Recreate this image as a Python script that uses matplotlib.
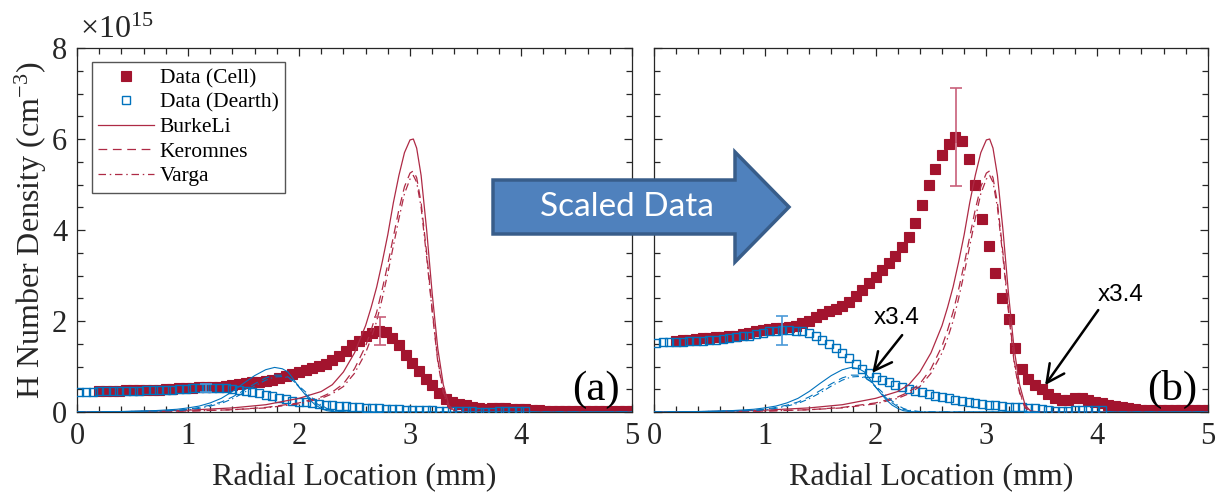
"""
H number density radial profiles: raw data (a) and data scaled x3.4 (b),
Cell / Dearth measurements against BurkeLi, Keromnes and Varga models.
"""

import matplotlib
matplotlib.use("Agg")
import matplotlib.pyplot as plt
from matplotlib.patches import Polygon
from matplotlib.ticker import MultipleLocator

SCALE = 3.4

# measured profiles as they appear in panel (b), units of 1e15 cm^-3
cell_x = [0.20, 0.26, 0.32, 0.38, 0.44, 0.50, 0.56, 0.62, 0.68, 0.74,
          0.80, 0.86, 0.92, 0.98, 1.04, 1.10, 1.16, 1.22, 1.28, 1.34,
          1.40, 1.46, 1.52, 1.58, 1.64, 1.70, 1.76, 1.82, 1.88, 1.94,
          2.00, 2.06, 2.12, 2.18, 2.24, 2.30, 2.36, 2.42, 2.48, 2.54,
          2.60, 2.66, 2.72, 2.78, 2.84, 2.90, 2.96, 3.02, 3.08, 3.14,
          3.20, 3.26, 3.32, 3.38, 3.44, 3.50, 3.56, 3.62, 3.68, 3.74,
          3.80, 3.86, 3.92, 3.98, 4.04, 4.10, 4.16, 4.22, 4.28, 4.34,
          4.40, 4.46, 4.52, 4.58, 4.64, 4.70, 4.76, 4.82, 4.88, 4.94, 5.00]
cell_scaled = [1.57, 1.58, 1.59, 1.60, 1.62, 1.63, 1.64, 1.65, 1.67, 1.68,
               1.71, 1.74, 1.77, 1.80, 1.82, 1.84, 1.85, 1.87, 1.90, 1.95,
               2.01, 2.08, 2.15, 2.22, 2.27, 2.33, 2.42, 2.55, 2.69, 2.83,
               2.97, 3.13, 3.28, 3.43, 3.62, 3.85, 4.15, 4.55, 5.00, 5.33,
               5.65, 5.90, 6.04, 5.95, 5.55, 5.00, 4.25, 3.65, 3.05, 2.50,
               2.05, 1.40, 0.95, 0.72, 0.60, 0.50, 0.40, 0.31, 0.26, 0.27,
               0.30, 0.31, 0.26, 0.22, 0.19, 0.16, 0.13, 0.10, 0.08, 0.06,
               0.05, 0.05, 0.04, 0.04, 0.04, 0.04, 0.04, 0.04, 0.04, 0.04, 0.04]

dearth_x = [0.02, 0.08, 0.14, 0.20, 0.26, 0.32, 0.38, 0.44, 0.50, 0.56,
            0.62, 0.68, 0.74, 0.80, 0.86, 0.92, 0.98, 1.04, 1.10, 1.16,
            1.22, 1.28, 1.34, 1.40, 1.46, 1.52, 1.58, 1.64, 1.70, 1.76,
            1.82, 1.88, 1.94, 2.00, 2.06, 2.12, 2.18, 2.24, 2.30, 2.36,
            2.42, 2.48, 2.54, 2.60, 2.66, 2.72, 2.78, 2.84, 2.90, 2.96,
            3.02, 3.08, 3.14, 3.20, 3.26, 3.32, 3.38, 3.44, 3.50, 3.56,
            3.62, 3.68, 3.74, 3.80, 3.86, 3.92, 3.98, 4.04]
dearth_scaled = [1.52, 1.53, 1.53, 1.54, 1.54, 1.55, 1.56, 1.57, 1.58, 1.59,
                 1.61, 1.62, 1.64, 1.66, 1.68, 1.71, 1.74, 1.77, 1.79, 1.80,
                 1.80, 1.79, 1.77, 1.73, 1.67, 1.59, 1.50, 1.40, 1.30, 1.18,
                 1.06, 0.95, 0.85, 0.78, 0.71, 0.65, 0.60, 0.55, 0.51, 0.47,
                 0.43, 0.40, 0.36, 0.33, 0.30, 0.27, 0.24, 0.22, 0.20, 0.18,
                 0.16, 0.15, 0.13, 0.12, 0.11, 0.10, 0.09, 0.08, 0.06, 0.04,
                 0.03, 0.03, 0.03, 0.04, 0.05, 0.05, 0.05, 0.05]

# error bars (x, value, half-width) in panel (b) units
cell_err = (2.73, 6.05, 1.08)
dearth_err = (1.16, 1.80, 0.32)

# model profiles, identical in both panels
cell_model_x = [0.0, 0.5, 1.0, 1.4, 1.7, 2.0, 2.2, 2.3, 2.4, 2.5, 2.6, 2.65,
                2.7, 2.75, 2.8, 2.85, 2.9, 2.95, 3.0, 3.03, 3.06, 3.1, 3.15,
                3.2, 3.25, 3.3, 3.35, 3.4, 3.5, 4.0, 5.0]
cell_burkeli = [0.0, 0.01, 0.04, 0.09, 0.16, 0.30, 0.45, 0.60, 0.88, 1.30, 1.90,
                2.30, 2.75, 3.30, 3.90, 4.60, 5.20, 5.70, 5.98, 6.00, 5.80,
                5.20, 4.00, 2.60, 1.40, 0.60, 0.15, 0.02, 0.0, 0.0, 0.0]
cell_keromnes = [0.0, 0.005, 0.02, 0.05, 0.10, 0.20, 0.33, 0.44, 0.62, 0.95,
                 1.45, 1.80, 2.20, 2.70, 3.25, 3.85, 4.45, 4.95, 5.25, 5.30,
                 5.15, 4.60, 3.50, 2.25, 1.15, 0.45, 0.10, 0.01, 0.0, 0.0, 0.0]
cell_varga = [0.0, 0.005, 0.02, 0.05, 0.09, 0.18, 0.30, 0.40, 0.56, 0.85, 1.30,
              1.62, 2.00, 2.50, 3.05, 3.65, 4.25, 4.80, 5.12, 5.20, 5.05,
              4.50, 3.40, 2.20, 1.10, 0.42, 0.09, 0.01, 0.0, 0.0, 0.0]

dearth_model_x = [0.0, 0.4, 0.7, 0.9, 1.0, 1.1, 1.2, 1.3, 1.4, 1.5, 1.6, 1.7,
                  1.78, 1.85, 1.9, 1.95, 2.0, 2.05, 2.1, 2.15, 2.2, 2.25, 2.3,
                  2.4, 2.5, 5.0]
dearth_burkeli = [0.0, 0.01, 0.03, 0.06, 0.09, 0.13, 0.20, 0.30, 0.45, 0.63,
                  0.80, 0.93, 0.98, 0.95, 0.88, 0.72, 0.55, 0.40, 0.26, 0.15,
                  0.08, 0.03, 0.01, 0.0, 0.0, 0.0]
dearth_keromnes = [0.0, 0.01, 0.02, 0.04, 0.06, 0.10, 0.15, 0.22, 0.33, 0.47,
                   0.62, 0.75, 0.81, 0.81, 0.77, 0.68, 0.55, 0.42, 0.30, 0.20,
                   0.12, 0.06, 0.03, 0.0, 0.0, 0.0]
dearth_varga = [0.0, 0.01, 0.02, 0.03, 0.05, 0.08, 0.13, 0.19, 0.29, 0.42,
                0.57, 0.70, 0.77, 0.78, 0.75, 0.68, 0.57, 0.46, 0.35, 0.24,
                0.15, 0.08, 0.04, 0.01, 0.0, 0.0]

RED = "#A3142E"
RED_LINE = "#AE2A45"
RED_ERR = "#C8607A"
BLUE = "#0072BD"
BLUE_ERR = "#4A9AD8"
AX_COLOR = "#262626"

SERIF = "Liberation Serif"
DASH = (7, 4.5)
DASHDOT = (6, 3, 1.2, 3)


def draw_panel(ax, scale):
    cell = [v / scale for v in cell_scaled]
    dearth = [v / scale for v in dearth_scaled]

    ax.plot(cell_x, cell, "s", color=RED, ms=7.6, mec=RED, mew=0.8,
            label="Data (Cell)", zorder=2)
    ax.plot(dearth_x, dearth, "s", color=BLUE, mfc="none", ms=6.0, mew=1.0,
            label="Data (Dearth)", zorder=3)

    ax.plot(cell_model_x, cell_burkeli, "-", color=RED_LINE, lw=0.9,
            label="BurkeLi", zorder=4)
    ax.plot(cell_model_x, cell_keromnes, color=RED_LINE, lw=0.9, dashes=DASH,
            label="Keromnes", zorder=4)
    ax.plot(cell_model_x, cell_varga, color=RED_LINE, lw=0.9, dashes=DASHDOT,
            label="Varga", zorder=4)
    ax.plot(dearth_model_x, dearth_burkeli, "-", color=BLUE, lw=0.8, zorder=4)
    ax.plot(dearth_model_x, dearth_keromnes, color=BLUE, lw=0.8, dashes=DASH,
            zorder=4)
    ax.plot(dearth_model_x, dearth_varga, color=BLUE, lw=0.8, dashes=DASHDOT,
            zorder=4)

    for (ex, ey, eh), col in ((cell_err, RED_ERR), (dearth_err, BLUE_ERR)):
        ax.errorbar([ex], [ey / scale], yerr=[eh / scale], fmt="none",
                    ecolor=col, elinewidth=1.2, capsize=4, capthick=1.2,
                    zorder=5)

    ax.set_xlim(0, 5)
    ax.set_ylim(0, 8)
    ax.xaxis.set_major_locator(MultipleLocator(1))
    ax.xaxis.set_minor_locator(MultipleLocator(0.2))
    ax.yaxis.set_major_locator(MultipleLocator(2))
    ax.yaxis.set_minor_locator(MultipleLocator(0.5))
    ax.tick_params(which="both", direction="in", top=True, right=True,
                   colors=AX_COLOR, width=0.9, labelsize=22)
    ax.tick_params(which="major", length=6, pad=7)
    ax.tick_params(which="minor", length=4)
    for spine in ax.spines.values():
        spine.set_color(AX_COLOR)
        spine.set_linewidth(0.9)
    ax.set_xlabel("Radial Location (mm)", fontsize=23, color=AX_COLOR,
                  labelpad=9)


def main():
    plt.rcParams["font.family"] = [SERIF, "DejaVu Serif"]
    plt.rcParams["mathtext.fontset"] = "custom"
    plt.rcParams["mathtext.rm"] = SERIF
    plt.rcParams["mathtext.it"] = SERIF + ":italic"

    fig = plt.figure(figsize=(12.21, 4.92), dpi=100)
    ax_a = fig.add_axes([0.0631, 0.1626, 0.4545, 0.7398])
    ax_b = fig.add_axes([0.5356, 0.1626, 0.4537, 0.7398])

    draw_panel(ax_a, SCALE)
    draw_panel(ax_b, 1.0)
    ax_b.tick_params(labelleft=False)

    ax_a.set_ylabel("H Number Density (cm$^{-3}$)", fontsize=23,
                    color=AX_COLOR)
    ax_a.yaxis.set_label_coords(-0.05, 0.5)
    ax_a.text(0.005, 1.008, r"$\times10^{15}$", transform=ax_a.transAxes,
              fontsize=23, color=AX_COLOR, ha="left", va="bottom")

    leg = ax_a.legend(loc="upper left", bbox_to_anchor=(0.027, 0.9615),
                      borderaxespad=0, fontsize=15.5, handlelength=2.6,
                      handletextpad=0.25, labelspacing=0.2, borderpad=0.3,
                      fancybox=False, framealpha=1, edgecolor="#555555")
    leg.get_frame().set_linewidth(1.0)

    for ax, tag in ((ax_a, "(a)"), (ax_b, "(b)")):
        ax.text(0.935, 0.062, tag, transform=ax.transAxes, fontsize=31,
                ha="center", va="center", color="black")

    # "x3.4" markers pointing at the scaled data in panel (b)
    arrow = dict(arrowstyle="->,head_length=0.8,head_width=0.4", lw=1.8,
                 color="black", shrinkA=0, shrinkB=0)
    for text_xy, start, tip in (((2.19, 2.07), (2.24, 1.69), (1.97, 0.86)),
                                ((4.21, 2.57), (4.01, 2.24), (3.53, 0.59))):
        ax_b.text(*text_xy, "x3.4", fontsize=17.5, family="Liberation Sans",
                  ha="center", va="center", zorder=6)
        ax_b.annotate("", xy=tip, xytext=start, arrowprops=arrow,
                      fontsize=16, zorder=6)

    # block arrow between the panels, figure pixels -> figure fraction
    w, h = 1221.0, 492.0
    px = [(493, 180), (735, 180), (735, 152), (789, 207), (735, 262),
          (735, 234), (493, 234)]
    verts = [(x / w, 1 - y / h) for x, y in px]
    fig.patches.append(Polygon(verts, closed=True, transform=fig.transFigure,
                               facecolor="#4F81BD", edgecolor="#385D8A",
                               lw=2.5, zorder=5))
    fig.text(627 / w, 1 - 207 / h, "Scaled Data", fontsize=24, family="Lato",
             color="white", ha="center", va="center", zorder=6)

    fig.savefig("out.png", dpi=100)
    plt.close(fig)


if __name__ == "__main__":
    main()
